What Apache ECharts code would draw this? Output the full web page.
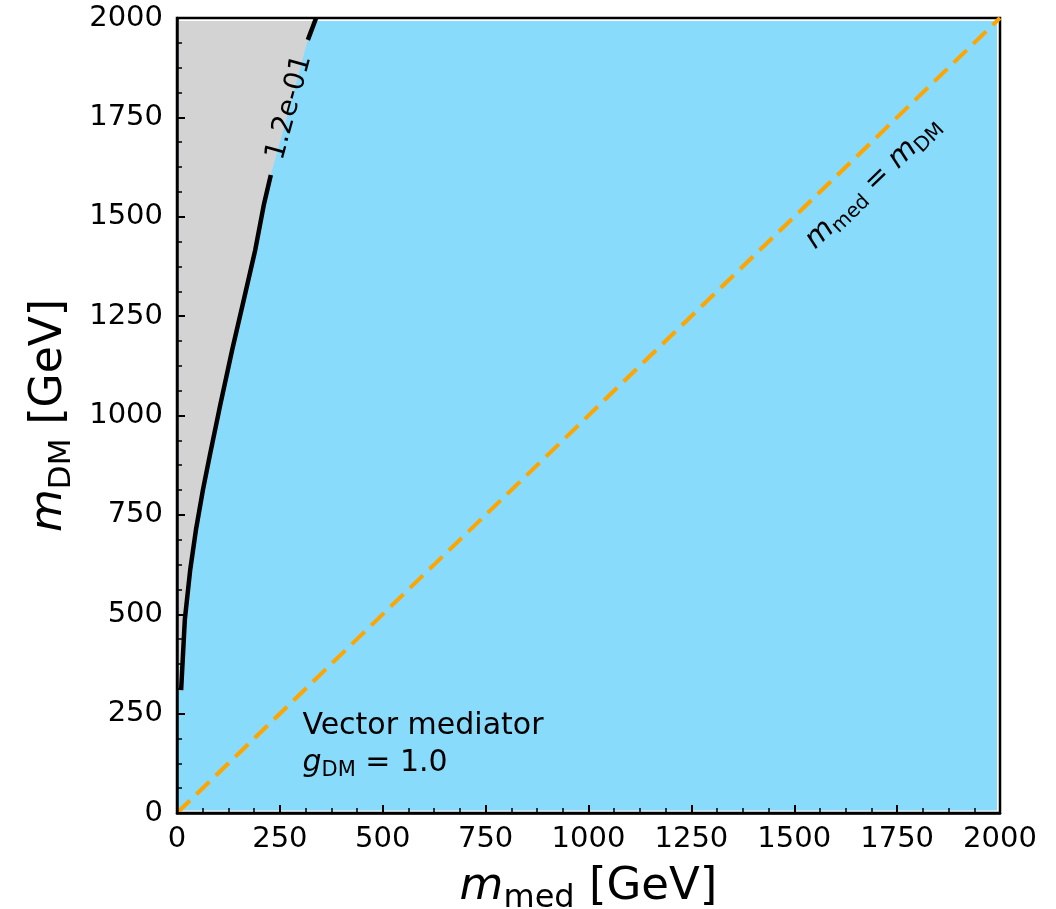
<!DOCTYPE html>
<html>
<head>
<meta charset="utf-8">
<script src="https://cdn.jsdelivr.net/npm/echarts@6/dist/echarts.min.js"></script>
<style>
  html, body { margin: 0; padding: 0; background: #ffffff; }
  #chart { width: 1056px; height: 909px; }
</style>
</head>
<body>
<div id="chart"></div>
<script>
// Axis range and major tick step (GeV)
const axisRange = [0, 2000];
const tickStep = 250;

// Relic-density contour in the (m_med, m_DM) plane
const contourMmed = [10, 19, 32, 46, 63, 80, 105, 134, 165, 190, 211, 228, 275, 318, 338];
const contourMdm  = [309, 486, 611, 712, 813, 901, 1026, 1165, 1303, 1416, 1530, 1605, 1780, 1945, 2000];
const contourLevel = '1.2e-01';
// m_DM interval where the contour line is broken for its inline label
const contourLabelSpan = [1605, 1945];

// Benchmark annotation
const modelName = 'Vector mediator';
const couplingValue = '1.0';

const FONT = 'DejaVu Sans';
const BLUE = '#88dbfa';
const GREY = '#d3d3d3';

const contourPts = contourMmed.map((x, i) => [x, contourMdm[i]]);
const lowerBranch = contourPts.filter(p => p[1] <= contourLabelSpan[0]);
const upperBranch = contourPts.filter(p => p[1] >= contourLabelSpan[1]);
const diagonal = [[axisRange[0], axisRange[0]], [axisRange[1], axisRange[1]]];

const chart = echarts.init(document.getElementById('chart'), null, { renderer: 'canvas' });

// inset of the filled region inside the frame (pixels)
function innerRect(cs) {
  return { x0: cs.x + 1.5, y0: cs.y + 3, x1: cs.x + cs.width - 3, y1: cs.y + cs.height - 2.5 };
}

function angleBetween(api, a, b) {
  const p = api.coord(a), q = api.coord(b);
  return Math.atan2(-(q[1] - p[1]), q[0] - p[0]);
}

const subRich = (size, base, drop) => ({
  m: { fontFamily: FONT, fontStyle: 'italic', fontSize: base, fill: '#000', color: '#000' },
  sub: { fontFamily: FONT, fontSize: size, padding: [drop, 0, 0, 0], fill: '#000', color: '#000' }
});

function axisCommon(margin) {
  return {
    type: 'value',
    min: axisRange[0],
    max: axisRange[1],
    interval: tickStep,
    z: 10,
    axisLine: { show: true, onZero: false, lineStyle: { color: '#000', width: 2.5 } },
    axisTick: { show: true, inside: true, length: 8, lineStyle: { color: '#000', width: 2 } },
    minorTick: { show: true, splitNumber: 4, length: 5, lineStyle: { color: '#000', width: 1.5 } },
    splitLine: { show: false },
    minorSplitLine: { show: false },
    axisLabel: {
      fontFamily: FONT, fontSize: 29, color: '#000', margin: margin,
      showMinLabel: true, showMaxLabel: true,
      formatter: v => String(v)
    }
  };
}

const option = {
  animation: false,
  backgroundColor: '#ffffff',
  grid: {
    left: 177, top: 18, right: 56, bottom: 96,
    outerBoundsMode: 'none',
    containLabel: false,
    show: true, borderColor: '#000', borderWidth: 2.5, backgroundColor: 'transparent'
  },
  xAxis: Object.assign(axisCommon(12), {
    name: '{m|m}{sub|med} [GeV]',
    nameLocation: 'middle',
    nameGap: 46,
    nameTextStyle: { fontFamily: FONT, fontSize: 45, color: '#000', rich: subRich(32, 45, 24) }
  }),
  yAxis: Object.assign(axisCommon(14), {
    name: '{m|m}{sub|DM} [GeV]',
    nameLocation: 'middle',
    nameRotate: 90,
    nameGap: 100,
    nameTextStyle: { fontFamily: FONT, fontSize: 44, color: '#000', rich: subRich(31, 44, 24) }
  }),
  series: [
    {
      // allowed region
      type: 'custom',
      z: 1,
      silent: true,
      data: [[axisRange[0], axisRange[0]]],
      renderItem: function (params, api) {
        const r = innerRect(params.coordSys);
        return {
          type: 'rect',
          shape: { x: r.x0, y: r.y0, width: r.x1 - r.x0, height: r.y1 - r.y0 },
          style: { fill: BLUE }
        };
      }
    },
    {
      // region left of the contour
      type: 'custom',
      z: 2,
      silent: true,
      data: [[axisRange[0], axisRange[0]]],
      renderItem: function (params, api) {
        const r = innerRect(params.coordSys);
        const poly = [[axisRange[0], contourMdm[0]]]
          .concat(contourPts)
          .concat([[axisRange[0], contourMdm[contourMdm.length - 1]]])
          .map(p => {
            const c = api.coord(p);
            return [Math.min(Math.max(c[0], r.x0), r.x1), Math.min(Math.max(c[1], r.y0), r.y1)];
          });
        return { type: 'polygon', shape: { points: poly }, style: { fill: GREY } };
      }
    },
    {
      type: 'line',
      z: 4,
      silent: true,
      data: lowerBranch,
      showSymbol: false,
      symbol: 'none',
      lineStyle: { color: '#000', width: 4.5, cap: 'butt', join: 'round' }
    },
    {
      type: 'line',
      z: 4,
      silent: true,
      data: upperBranch,
      showSymbol: false,
      symbol: 'none',
      lineStyle: { color: '#000', width: 4.5, cap: 'butt' }
    },
    {
      // m_med = m_DM
      type: 'line',
      z: 5,
      silent: true,
      data: diagonal,
      showSymbol: false,
      symbol: 'none',
      lineStyle: { color: '#ffa500', width: 4, type: [18, 9] }
    },
    {
      // text annotations
      type: 'custom',
      z: 6,
      silent: true,
      clip: false,
      data: [[axisRange[0], axisRange[0]]],
      renderItem: function (params, api) {
        const children = [];
        // inline contour label
        const a = contourPts.find(p => p[1] === contourLabelSpan[0]);
        const b = contourPts.find(p => p[1] === contourLabelSpan[1]);
        const pa = api.coord(a), pb = api.coord(b);
        children.push({
          type: 'text',
          x: (pa[0] + pb[0]) / 2,
          y: (pa[1] + pb[1]) / 2,
          rotation: angleBetween(api, a, b),
          style: {
            text: contourLevel, fill: '#000', fontFamily: FONT, fontSize: 28,
            align: 'center', verticalAlign: 'middle'
          }
        });
        // diagonal label
        const d = api.coord([1692, 1585]);
        children.push({
          type: 'text',
          x: d[0], y: d[1],
          rotation: angleBetween(api, diagonal[0], diagonal[1]),
          style: {
            text: '{m|m}{sub|med} = {m|m}{sub|DM}',
            fill: '#000', fontFamily: FONT, fontSize: 29,
            align: 'center', verticalAlign: 'middle',
            rich: subRich(20, 29, 14)
          }
        });
        // benchmark description
        const n = api.coord([300, 100]);
        children.push({
          type: 'text',
          x: n[0] + 2, y: n[1] - 47,
          style: {
            text: modelName, fill: '#000', fontFamily: FONT, fontSize: 30,
            align: 'left', verticalAlign: 'middle'
          }
        });
        children.push({
          type: 'text',
          x: n[0] + 2, y: n[1] - 10,
          style: {
            text: '{m|g}{sub|DM} = ' + couplingValue,
            fill: '#000', fontFamily: FONT, fontSize: 30,
            align: 'left', verticalAlign: 'middle',
            rich: subRich(21, 30, 15)
          }
        });
        return { type: 'group', children: children };
      }
    }
  ]
};

chart.setOption(option);
</script>
</body>
</html>
